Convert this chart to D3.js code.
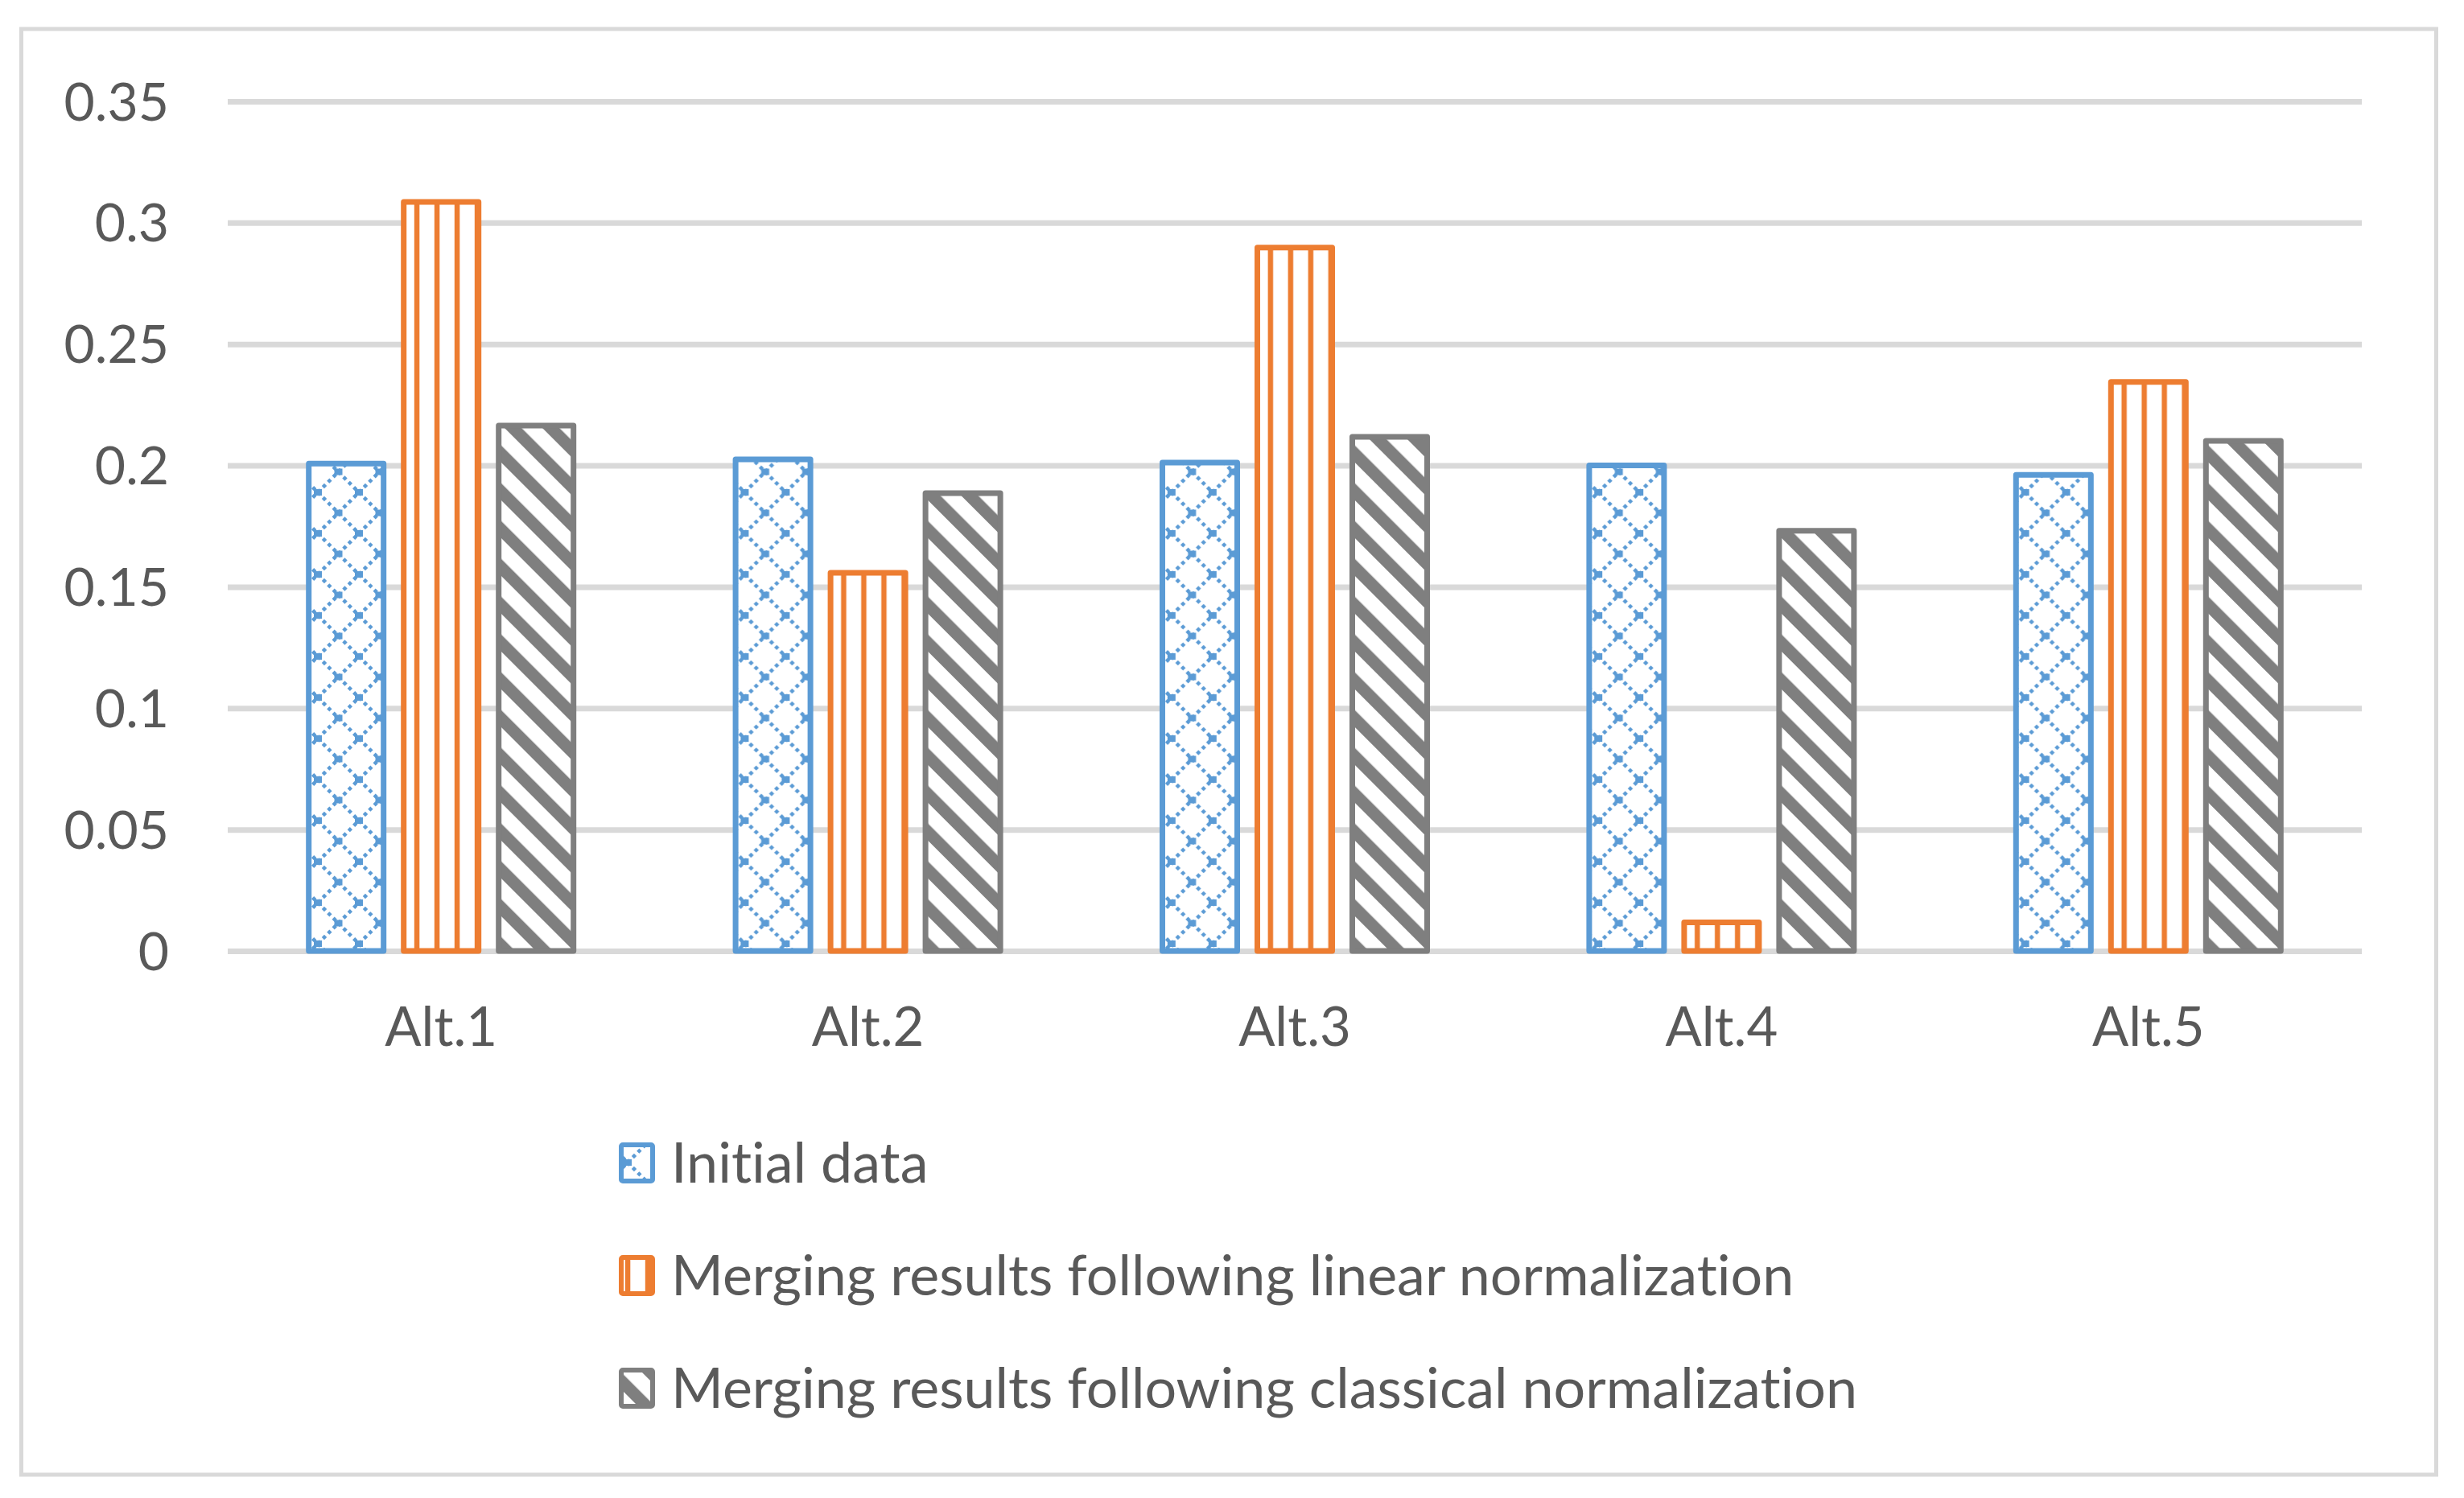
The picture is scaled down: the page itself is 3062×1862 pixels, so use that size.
<!DOCTYPE html>
<html>
<head>
<meta charset="utf-8">
<script src="https://cdn.jsdelivr.net/npm/d3@7/dist/d3.min.js"></script>
<style>
  html, body { margin: 0; padding: 0; background: #ffffff; }
  svg { display: block; }
  text { font-family: Lato, "Open Sans", sans-serif; fill: #595959; font-variant-ligatures: none; font-feature-settings: "liga" 0, "dlig" 0; }
</style>
</head>
<body>
<svg id="chart" width="3062" height="1862"></svg>
<script>
const categories = ["Alt.1", "Alt.2", "Alt.3", "Alt.4", "Alt.5"];
const seriesNames = [
  "Initial data",
  "Merging results following linear normalization",
  "Merging results following classical normalization"
];
const initialData   = [0.2008, 0.2025, 0.2012, 0.2000, 0.1961];
const linearNorm    = [0.3086, 0.1558, 0.2898, 0.0118, 0.2344];
const classicalNorm = [0.2164, 0.1886, 0.2118, 0.1731, 0.2101];
const yTickValues = [0, 0.05, 0.1, 0.15, 0.2, 0.25, 0.3, 0.35];
const yTickLabels = ["0", "0.05", "0.1", "0.15", "0.2", "0.25", "0.3", "0.35"];

const seriesValues = [initialData, linearNorm, classicalNorm];
const colors = ["#5b9bd5", "#ed7d31", "#7f7f7f"];
const patternIds = ["patDiamond", "patVertical", "patDiag"];

const svg = d3.select("#chart");
const defs = svg.append("defs");

// Dotted diamond pattern (blue)
{
  const s = 51;
  const p = defs.append("pattern").attr("id", "patDiamond")
    .attr("patternUnits", "userSpaceOnUse").attr("width", s).attr("height", s)
    .attr("x", 10).attr("y", 0);
  p.append("rect").attr("width", s).attr("height", s).attr("fill", "#fff");
  [-s, 0, s].forEach(o => {
    p.append("line").attr("x1", 0).attr("y1", o).attr("x2", s).attr("y2", s + o)
      .attr("stroke", colors[0]).attr("stroke-width", 4.5)
      .attr("pathLength", 8).attr("stroke-dasharray", "0.5 0.5");
    p.append("line").attr("x1", 0).attr("y1", s + o).attr("x2", s).attr("y2", o)
      .attr("stroke", colors[0]).attr("stroke-width", 4.5)
      .attr("pathLength", 8).attr("stroke-dasharray", "0.5 0.5");
  });
  // heavier knots at crossings
  [[0, 0], [s, 0], [0, s], [s, s], [s / 2, s / 2]].forEach(([cx, cy]) => {
    p.append("rect").attr("x", cx - 5).attr("y", cy - 4).attr("width", 10).attr("height", 8)
      .attr("fill", colors[0]);
  });
}
// Vertical stripes (orange)
{
  const p = defs.append("pattern").attr("id", "patVertical")
    .attr("patternUnits", "userSpaceOnUse").attr("width", 25).attr("height", 10);
  p.append("rect").attr("width", 25).attr("height", 10).attr("fill", "#fff");
  p.append("rect").attr("x", 6.8).attr("width", 6.5).attr("height", 10).attr("fill", colors[1]);
}
// Wide downward diagonal (gray)
{
  const w = 47 / Math.SQRT2;
  const p = defs.append("pattern").attr("id", "patDiag")
    .attr("patternUnits", "userSpaceOnUse").attr("width", w).attr("height", 10)
    .attr("patternTransform", "rotate(-45)");
  p.append("rect").attr("width", w).attr("height", 10).attr("fill", "#fff");
  p.append("rect").attr("x", 0).attr("width", 15).attr("height", 10).attr("fill", colors[2]);
}

// Outer chart border
svg.append("rect").attr("x", 26.5).attr("y", 36).attr("width", 3001).attr("height", 1797)
  .attr("fill", "#fff").attr("stroke", "#d9d9d9").attr("stroke-width", 5);

const plotLeft = 283, plotRight = 2935, plotTop = 126, plotBottom = 1182;

const x0 = d3.scaleBand().domain(categories).range([plotLeft, plotRight]).paddingInner(0).paddingOuter(0);
const barStep = 118, barW = 93;
const inner = barStep * (3 - (barStep - barW) / barStep);
const x1 = d3.scaleBand().domain(d3.range(3))
  .range([x0.bandwidth() / 2 - inner / 2, x0.bandwidth() / 2 + inner / 2])
  .paddingInner((barStep - barW) / barStep).paddingOuter(0);
const y = d3.scaleLinear().domain([0, 0.35]).range([plotBottom, plotTop]);

// Gridlines + y tick labels
const yAxis = d3.axisLeft(y).tickValues(yTickValues)
  .tickSize(-(plotRight - plotLeft)).tickFormat((d, i) => yTickLabels[i]).tickPadding(73);
const gy = svg.append("g").attr("transform", `translate(${plotLeft},0)`).call(yAxis);
gy.select(".domain").remove();
gy.selectAll(".tick line").attr("stroke", "#d9d9d9").attr("stroke-width", 7);
gy.selectAll(".tick text").attr("font-size", 66).attr("fill", "#595959")
  .attr("font-family", "Lato, sans-serif").attr("dy", "0.35em");

// Bars
const groups = svg.append("g").selectAll("g").data(categories).join("g")
  .attr("transform", d => `translate(${x0(d)},0)`);
groups.selectAll("rect")
  .data((c, ci) => seriesValues.map((vals, si) => ({ si, v: vals[ci] })))
  .join("rect")
  .attr("x", d => x1(d.si))
  .attr("width", x1.bandwidth())
  .attr("y", d => y(d.v))
  .attr("height", d => y(0) - y(d.v))
  .attr("fill", d => `url(#${patternIds[d.si]})`)
  .attr("stroke", d => colors[d.si])
  .attr("stroke-width", 7)
  .attr("stroke-linejoin", "round");

// X axis labels
const xAxis = d3.axisBottom(x0).tickSize(0).tickPadding(0);
const gx = svg.append("g").attr("transform", `translate(0,${plotBottom})`).call(xAxis);
gx.select(".domain").remove();
gx.selectAll(".tick text").attr("font-size", 67).attr("fill", "#595959")
  .attr("font-family", "Lato, sans-serif").attr("dy", null).attr("y", 118);

// Legend
const legendX = 770, legendY0 = 1445, legendStep = 140;
const lg = svg.append("g").selectAll("g").data(seriesNames).join("g")
  .attr("transform", (d, i) => `translate(${legendX},${legendY0 + i * legendStep})`);
lg.append("rect").attr("x", 2).attr("y", -22).attr("width", 39).attr("height", 45)
  .attr("rx", 2)
  .attr("fill", (d, i) => `url(#${patternIds[i]})`)
  .attr("stroke", (d, i) => colors[i]).attr("stroke-width", 6);
lg.append("text").attr("x", 64).attr("y", 0).attr("dy", "0.35em")
  .attr("font-size", 70).text(d => d);
</script>
</body>
</html>
